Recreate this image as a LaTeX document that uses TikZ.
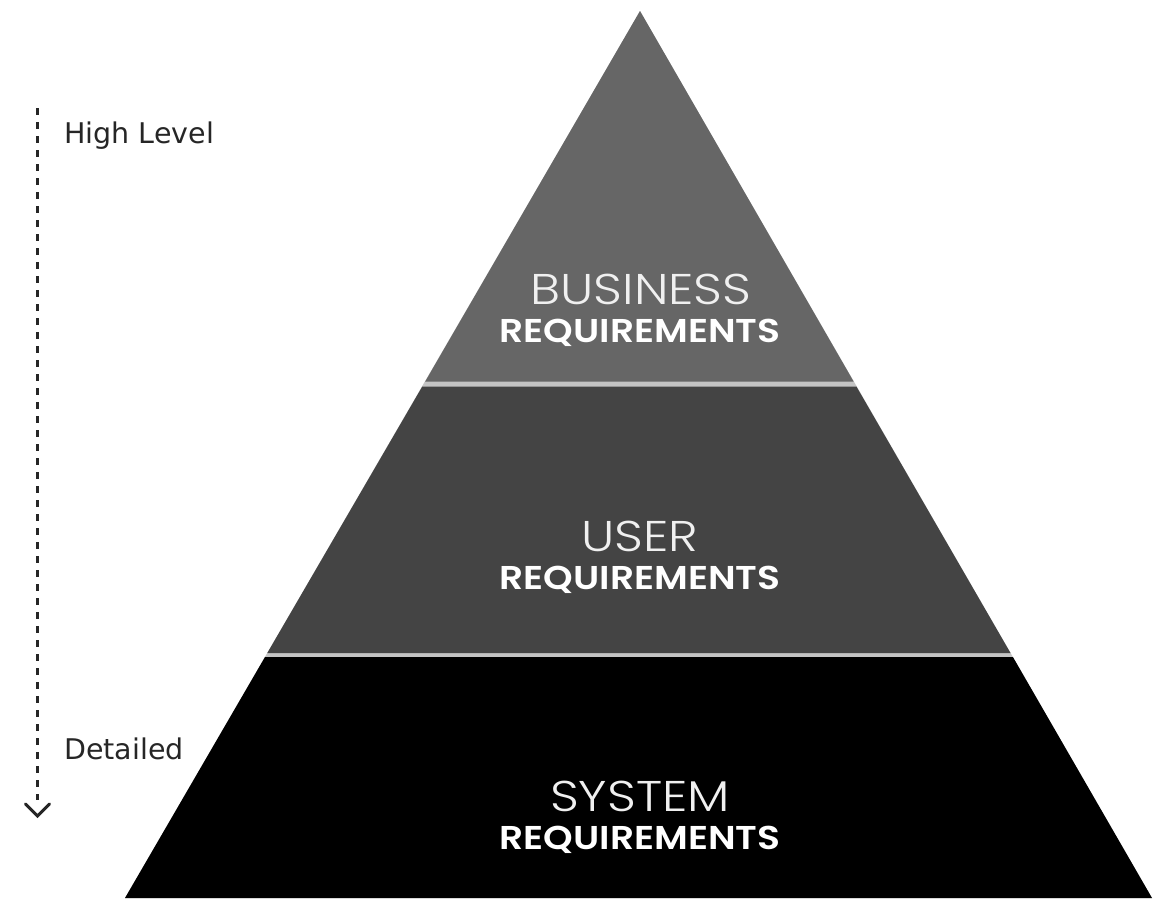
\documentclass[tikz,border=0pt]{standalone}
\usepackage{fontspec}
\setmainfont{Poppins}
\newfontfamily\lightfont{Poppins Light}[FakeStretch=1.17]
\newfontfamily\boldwide{Poppins SemiBold}[FakeStretch=1.14]
\newfontfamily\sidefont{DejaVu Sans}
\usetikzlibrary{arrows.meta}
\definecolor{topband}{HTML}{666666}
\definecolor{midband}{HTML}{444444}
\definecolor{lowband}{HTML}{000000}
\definecolor{divider}{HTML}{C4C4C4}
\tikzset{
  thintext/.style={text=white!94!black, font=\lightfont\fontsize{43}{43}\selectfont, inner sep=0pt, anchor=center},
  boldtext/.style={text=white, font=\boldwide\fontsize{33}{33}\selectfont, inner sep=0pt, anchor=center},
  sidetext/.style={text=black!85, font=\sidefont\fontsize{28.5}{28.5}\selectfont, inner sep=0pt, anchor=west},
  levelline/.style={line width=2.3pt, dash pattern=on 7pt off 7pt, black!85},
  chevron/.style={line width=3pt, black!85, line cap=round, line join=miter}
}
\begin{document}
\begin{tikzpicture}[x=1pt,y=-1pt]
\useasboundingbox (0,0) rectangle (1162,898);
% whole pyramid in divider colour
\fill[divider] (640,11) -- (1152,898) -- (125,898) -- cycle;
% bands
\fill[topband] (640,11) -- (853.6,381.5) -- (425.2,381.5) -- cycle;
\fill[midband] (422.3,386.5) -- (856.4,386.5) -- (1010.5,653) -- (267.3,653) -- cycle;
\fill[lowband] (265,657) -- (1012.9,657) -- (1152,898) -- (125,898) -- cycle;
% texts
\node[thintext] (bus) at (641,289) {BUSINESS};
\node[boldtext] (busreq) at (640,333) {REQUIREMENTS};
\node[thintext] (usr) at (640,536) {USER};
\node[boldtext] (usrreq) at (640,580) {REQUIREMENTS};
\node[thintext] (sys) at (640,796) {SYSTEM};
\node[boldtext] (sysreq) at (640,840) {REQUIREMENTS};
% side scale
\node[sidetext] (hi) at (64,136) {High Level};
\node[sidetext] (det) at (64,749) {Detailed};
\coordinate (ltop) at (37.5,108);
\coordinate (lend) at (37.5,800);
\coordinate (lbot) at (37.5,816);
\draw[levelline] (ltop) -- (lend);
\draw[chevron] (25.5,804) -- (lbot) -- (49.5,804);
\end{tikzpicture}
\end{document}
